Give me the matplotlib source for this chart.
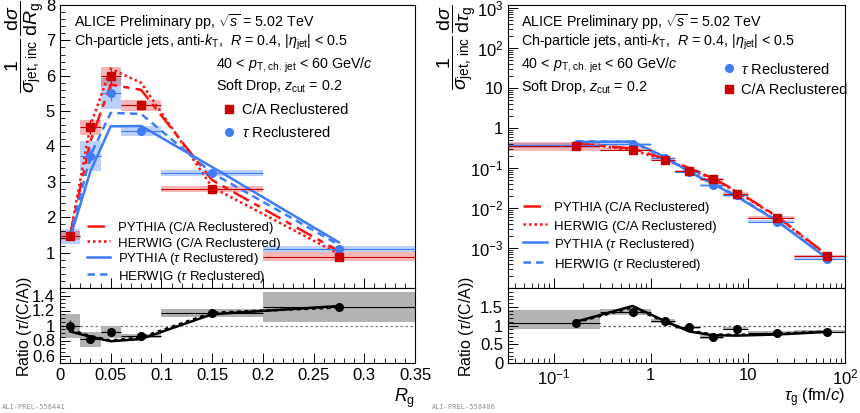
import numpy as np
import matplotlib
matplotlib.use('Agg')
import matplotlib.pyplot as plt
from matplotlib.lines import Line2D
from matplotlib.ticker import MultipleLocator, FixedLocator, LogLocator, FuncFormatter, NullFormatter

plt.rcParams['font.family'] = ['Liberation Sans', 'DejaVu Sans']
plt.rcParams['mathtext.fontset'] = 'custom'
plt.rcParams['mathtext.rm'] = 'Liberation Sans'
plt.rcParams['mathtext.it'] = 'Liberation Sans:italic'
plt.rcParams['mathtext.bf'] = 'Liberation Sans:bold'

# ---- R_g data ----
rg_edges = [0.0, 0.02, 0.04, 0.06, 0.10, 0.20, 0.35]
rg_x = [0.01, 0.03, 0.05, 0.08, 0.15, 0.275]
rg_ca = [1.48, 4.54, 5.98, 5.16, 2.79, 0.88]
rg_ca_stat = [0.08, 0.20, 0.18, 0.12, 0.05, 0.04]
rg_ca_sys = [0.12, 0.21, 0.26, 0.16, 0.09, 0.13]
rg_tau = [1.46, 3.74, 5.50, 4.43, 3.25, 1.10]
rg_tau_stat = [0.08, 0.20, 0.20, 0.08, 0.05, 0.04]
rg_tau_sys = [0.21, 0.42, 0.44, 0.14, 0.09, 0.085]
rg_py_ca = [1.50, 4.15, 5.75, 5.60, 3.05, 1.04]
rg_hw_ca = [1.50, 4.60, 6.20, 5.80, 2.85, 0.96]
rg_py_tau = [1.42, 3.30, 4.57, 4.58, 3.42, 1.29]
rg_hw_tau = [1.45, 3.75, 4.95, 4.92, 3.25, 1.22]
rg_ratio = [0.99, 0.82, 0.92, 0.86, 1.17, 1.25]
rg_ratio_stat = [0.08, 0.04, 0.05, 0.03, 0.02, 0.05]
rg_ratio_sys = [0.16, 0.10, 0.08, 0.03, 0.05, 0.20]
rg_ratio_py = [0.92, 0.85, 0.79, 0.82, 1.15, 1.26]
rg_ratio_hw = [0.94, 0.86, 0.80, 0.84, 1.17, 1.24]

# ---- tau_g data ----
tg_edges = [0.0, 0.3, 1.0, 1.8, 3.2, 5.6, 10.0, 30.0, 100.0]
tg_x = [0.17, 0.65, 1.4, 2.5, 4.4, 7.8, 20.0, 65.0]
tg_ca = [0.36, 0.29, 0.16, 0.084, 0.052, 0.023, 0.0057, 0.00063]
tg_ca_sys = [0.25, 0.08, 0.08, 0.08, 0.08, 0.08, 0.08, 0.08]   # relative
tg_tau = [0.37, 0.39, 0.18, 0.080, 0.037, 0.021, 0.0046, 0.00054]
tg_tau_sys = [0.12, 0.08, 0.08, 0.08, 0.08, 0.08, 0.08, 0.08]  # relative
tg_py_ca = [0.41, 0.31, 0.17, 0.10, 0.055, 0.026, 0.0062, 0.00068]
tg_hw_ca = [0.43, 0.28, 0.16, 0.095, 0.052, 0.025, 0.0060, 0.00066]
tg_py_tau = [0.45, 0.46, 0.19, 0.080, 0.040, 0.019, 0.0047, 0.00056]
tg_hw_tau = [0.47, 0.45, 0.18, 0.082, 0.041, 0.020, 0.0048, 0.00057]
tg_ratio = [1.06, 1.35, 1.12, 0.95, 0.70, 0.92, 0.81, 0.84]
tg_ratio_stat = [0.04, 0.04, 0.03, 0.03, 0.03, 0.03, 0.03, 0.03]
tg_ratio_sys_lo = [0.15, 0.06, 0.05, 0.05, 0.05, 0.05, 0.04, 0.05]
tg_ratio_sys_hi = [0.36, 0.10, 0.05, 0.05, 0.05, 0.05, 0.04, 0.05]
tg_ratio_py = [1.10, 1.52, 1.12, 0.84, 0.74, 0.73, 0.76, 0.83]
tg_ratio_hw = [1.08, 1.48, 1.10, 0.86, 0.76, 0.75, 0.78, 0.84]

model_labels = ['PYTHIA (C/A Reclustered)', 'HERWIG (C/A Reclustered)',
                r'PYTHIA ($\tau$ Reclustered)', r'HERWIG ($\tau$ Reclustered)']

RED = '#ff1010'
RED_D = '#c80000'
BLUE = '#3d7cf5'
GRAY = '#b3b3b3'

W, H = 860, 413
fig = plt.figure(figsize=(W / 100, H / 100), dpi=100)

def px_axes(x0, x1, y0, y1):
    return fig.add_axes([x0 / W, 1 - y1 / H, (x1 - x0) / W, (y1 - y0) / H])

ax1 = px_axes(60, 415, 5, 288)
ax1r = px_axes(60, 415, 288, 363)
ax2 = px_axes(508, 845, 5, 288)
ax2r = px_axes(508, 845, 288, 363)

for a in (ax1, ax1r, ax2, ax2r):
    a.tick_params(which='both', direction='in', top=False, right=False, labelsize=12)
    a.tick_params(which='major', length=7, width=0.7)
    a.tick_params(which='minor', length=3.5, width=0.6)
    for s in a.spines.values():
        s.set_linewidth(0.8)

def sys_boxes(ax, edges, y, lo, hi, color, alpha, xmin=None):
    left = np.array(edges[:-1], dtype=float)
    right = np.array(edges[1:], dtype=float)
    if xmin is not None:
        left = np.maximum(left, xmin)
    y = np.array(y)
    ax.bar(left, np.array(lo) + np.array(hi), width=right - left, bottom=y - np.array(lo),
           align='edge', color=color, alpha=alpha, linewidth=0, zorder=1)

def xerr_of(edges, x, xmin=None):
    left = np.array(edges[:-1], dtype=float)
    if xmin is not None:
        left = np.maximum(left, xmin)
    right = np.array(edges[1:], dtype=float)
    x = np.array(x)
    return [x - left, right - x]

def model_legend(ax, handles, anchor, spacing):
    leg = ax.legend(handles, model_labels, loc='upper left', bbox_to_anchor=anchor,
                    fontsize=9.5, frameon=False, handlelength=1.8, handleheight=1.2,
                    handletextpad=0.55, labelspacing=spacing, borderaxespad=0, borderpad=0)
    ax.add_artist(leg)

TXT = 10.3

# ---------------- left top ----------------
ax = ax1
sys_boxes(ax, rg_edges, rg_tau, rg_tau_sys, rg_tau_sys, BLUE, 0.35)
sys_boxes(ax, rg_edges, rg_ca, rg_ca_sys, rg_ca_sys, '#e03030', 0.35)
ax.errorbar(rg_x, rg_tau, yerr=rg_tau_stat, xerr=xerr_of(rg_edges, rg_x), fmt='o', color=BLUE,
            ms=5.5, elinewidth=0.8, capsize=0, zorder=4)
ax.errorbar(rg_x, rg_ca, yerr=rg_ca_stat, xerr=xerr_of(rg_edges, rg_x), fmt='s', color=RED_D,
            ms=5.5, elinewidth=0.8, capsize=0, zorder=4)
l1, = ax.plot(rg_x, rg_py_ca, color=RED, lw=1.8, dashes=(7, 2.5, 2.5, 2.5), zorder=3)
l2, = ax.plot(rg_x, rg_hw_ca, color=RED, lw=1.8, dashes=(1, 1.2), zorder=3)
l3, = ax.plot(rg_x, rg_py_tau, color=BLUE, lw=1.8, zorder=3)
l4, = ax.plot(rg_x, rg_hw_tau, color=BLUE, lw=1.8, dashes=(3, 2), zorder=3)
ax.set_xlim(0, 0.35)
ax.set_ylim(0, 8)
ax.yaxis.set_major_locator(FixedLocator([1, 2, 3, 4, 5, 6, 7, 8]))
ax.yaxis.set_minor_locator(MultipleLocator(0.2))
ax.xaxis.set_major_locator(MultipleLocator(0.05))
ax.xaxis.set_minor_locator(MultipleLocator(0.01))
ax.tick_params(labelbottom=False)
model_legend(ax, [l1, l2, l3, l4], (0.075, 0.24), 0.1)
h_ca = Line2D([], [], marker='s', ls='none', color=RED_D, ms=5.5)
h_tau = Line2D([], [], marker='o', ls='none', color=BLUE, ms=5.5)
ax.legend([h_ca, h_tau], ['C/A Reclustered', r'$\tau$ Reclustered'], loc='upper left',
          bbox_to_anchor=(0.455, 0.655), fontsize=10.5, frameon=False, handlelength=1.0,
          handletextpad=0.4, labelspacing=0.55, borderaxespad=0, borderpad=0)

ax.text(0.04, 0.94, r'ALICE Preliminary pp, $\sqrt{s}$ = 5.02 TeV', transform=ax.transAxes,
        fontsize=TXT, va='center')
ax.text(0.04, 0.869, r'Ch-particle jets, anti-$k_{\rm T}$,  $R$ = 0.4, $|\eta_{\rm jet}|$ < 0.5',
        transform=ax.transAxes, fontsize=TXT, va='center')
ax.text(0.44, 0.785, r'40 < $p_{\rm T,\,ch.\,jet}$ < 60 GeV/$c$', transform=ax.transAxes,
        fontsize=TXT, va='center')
ax.text(0.44, 0.714, r'Soft Drop, $z_{\rm cut}$ = 0.2', transform=ax.transAxes,
        fontsize=TXT, va='center')

# ---------------- left ratio ----------------
ax = ax1r
ax.axhline(1, color='#808080', lw=0.9, ls=(0, (2, 2)), zorder=1)
sys_boxes(ax, rg_edges, rg_ratio, rg_ratio_sys, rg_ratio_sys, GRAY, 1.0)
ax.errorbar(rg_x, rg_ratio, yerr=rg_ratio_stat, xerr=xerr_of(rg_edges, rg_x), fmt='o',
            color='black', ms=5.5, elinewidth=0.8, capsize=0, zorder=4)
ax.plot(rg_x, rg_ratio_py, color='black', lw=1.8, zorder=3)
ax.plot(rg_x, rg_ratio_hw, color='black', lw=1.8, dashes=(1.5, 1.5), zorder=3)
ax.set_xlim(0, 0.35)
ax.set_ylim(0.5, 1.5)
ax.yaxis.set_major_locator(FixedLocator([0.6, 0.8, 1.0, 1.2, 1.4]))
ax.yaxis.set_minor_locator(MultipleLocator(0.05))
ax.yaxis.set_major_formatter(FuncFormatter(lambda v, p: '%g' % round(v, 2)))
ax.xaxis.set_major_locator(MultipleLocator(0.05))
ax.xaxis.set_minor_locator(MultipleLocator(0.01))
ax.xaxis.set_major_formatter(FuncFormatter(lambda v, p: '%g' % round(v, 3)))

# ---------------- right top ----------------
XMIN = 0.034
ax = ax2
sys_boxes(ax, tg_edges, tg_tau, np.array(tg_tau) * np.array(tg_tau_sys),
          np.array(tg_tau) * np.array(tg_tau_sys), BLUE, 0.35, xmin=XMIN)
sys_boxes(ax, tg_edges, tg_ca, np.array(tg_ca) * np.array(tg_ca_sys),
          np.array(tg_ca) * np.array(tg_ca_sys), '#e03030', 0.35, xmin=XMIN)
ax.errorbar(tg_x, tg_tau, xerr=xerr_of(tg_edges, tg_x, XMIN), fmt='o', color=BLUE,
            ms=5.5, elinewidth=0.8, capsize=0, zorder=4)
ax.errorbar(tg_x, tg_ca, xerr=xerr_of(tg_edges, tg_x, XMIN), fmt='s', color=RED_D,
            ms=5.5, elinewidth=0.8, capsize=0, zorder=4)
m1, = ax.plot(tg_x, tg_py_ca, color=RED, lw=1.8, dashes=(7, 2.5, 2.5, 2.5), zorder=3)
m2, = ax.plot(tg_x, tg_hw_ca, color=RED, lw=1.8, dashes=(1, 1.2), zorder=3)
m3, = ax.plot(tg_x, tg_py_tau, color=BLUE, lw=1.8, zorder=3)
m4, = ax.plot(tg_x, tg_hw_tau, color=BLUE, lw=1.8, dashes=(3, 2), zorder=3)
ax.set_xscale('log')
ax.set_yscale('log')
ax.set_xlim(XMIN, 100)
ax.set_ylim(1e-4, 1.2e3)

def log_fmt(v, p):
    e = int(round(np.log10(v)))
    if e == 0:
        return '1'
    if e == 1:
        return '10'
    return r'$10^{%d}$' % e

ax.yaxis.set_major_locator(LogLocator(base=10, numticks=20))
ax.yaxis.set_minor_locator(LogLocator(base=10, subs=np.arange(2, 10), numticks=20))
ax.yaxis.set_major_formatter(FuncFormatter(log_fmt))
ax.yaxis.set_minor_formatter(NullFormatter())
ax.xaxis.set_minor_locator(LogLocator(base=10, subs=np.arange(2, 10), numticks=20))
ax.tick_params(labelbottom=False)
ax.set_yticks([1e-3, 1e-2, 1e-1, 1, 10, 100, 1000])
model_legend(ax, [m1, m2, m3, m4], (0.045, 0.31), 0.3)
ax.legend([h_tau, h_ca], [r'$\tau$ Reclustered', 'C/A Reclustered'], loc='upper left',
          bbox_to_anchor=(0.635, 0.8), fontsize=10.5, frameon=False, handlelength=1.0,
          handletextpad=0.3, labelspacing=0.45, borderaxespad=0, borderpad=0)
ax.text(0.038, 0.94, r'ALICE Preliminary pp, $\sqrt{s}$ = 5.02 TeV', transform=ax.transAxes,
        fontsize=TXT, va='center')
ax.text(0.038, 0.869, r'Ch-particle jets, anti-$k_{\rm T}$,  $R$ = 0.4, $|\eta_{\rm jet}|$ < 0.5',
        transform=ax.transAxes, fontsize=TXT, va='center')
ax.text(0.038, 0.785, r'40 < $p_{\rm T,\,ch.\,jet}$ < 60 GeV/$c$', transform=ax.transAxes,
        fontsize=TXT, va='center')
ax.text(0.038, 0.712, r'Soft Drop, $z_{\rm cut}$ = 0.2', transform=ax.transAxes,
        fontsize=TXT, va='center')

# ---------------- right ratio ----------------
ax = ax2r
ax.axhline(1, color='#606060', lw=0.9, ls=(0, (2, 2)), zorder=1)
sys_boxes(ax, tg_edges, tg_ratio, tg_ratio_sys_lo, tg_ratio_sys_hi, GRAY, 1.0, xmin=XMIN)
ax.errorbar(tg_x, tg_ratio, yerr=tg_ratio_stat, xerr=xerr_of(tg_edges, tg_x, XMIN), fmt='o',
            color='black', ms=5.5, elinewidth=0.8, capsize=0, zorder=4)
ax.plot(tg_x, tg_ratio_py, color='black', lw=1.8, zorder=3)
ax.plot(tg_x, tg_ratio_hw, color='black', lw=1.8, dashes=(1.5, 1.5), zorder=3)
ax.set_xscale('log')
ax.set_xlim(XMIN, 100)
ax.set_ylim(0, 2)
ax.yaxis.set_major_locator(FixedLocator([0, 0.5, 1.0, 1.5]))
ax.yaxis.set_minor_locator(MultipleLocator(0.1))
ax.yaxis.set_major_formatter(FuncFormatter(lambda v, p: '%g' % v))
ax.xaxis.set_minor_locator(LogLocator(base=10, subs=np.arange(2, 10), numticks=20))
ax.xaxis.set_major_formatter(FuncFormatter(log_fmt))
ax.xaxis.set_minor_formatter(NullFormatter())

# ---------------- axis titles ----------------
fig.text(25 / W, 1 - 47 / H, r'$\dfrac{1}{\sigma_{\rm jet,\,inc}}\,\dfrac{{\rm d}\sigma}{{\rm d}R_{\rm g}}$',
         rotation=90, ha='center', va='center', fontsize=14)
fig.text(457 / W, 1 - 47 / H, r'$\dfrac{1}{\sigma_{\rm jet,\,inc}}\,\dfrac{{\rm d}\sigma}{{\rm d}\tau_{\rm g}}$',
         rotation=90, ha='center', va='center', fontsize=14)
fig.text(24 / W, 1 - 326 / H, r'Ratio ($\tau$/(C/A))', rotation=90, ha='center', va='center',
         fontsize=11.5)
fig.text(466 / W, 1 - 326 / H, r'Ratio ($\tau$/(C/A))', rotation=90, ha='center', va='center',
         fontsize=11.5)
fig.text(415 / W, 1 - 398 / H, r'$R_{\rm g}$', ha='right', va='center', fontsize=13)
fig.text(845 / W, 1 - 398 / H, r'$\tau_{\rm g}$ (fm/$c$)', ha='right', va='center', fontsize=12)
fig.text(2 / W, 1 - 407 / H, 'ALI-PREL-558441', family='DejaVu Sans Mono', fontsize=5, color='#909090',
         va='center')
fig.text(432 / W, 1 - 407 / H, 'ALI-PREL-558486', family='DejaVu Sans Mono', fontsize=5, color='#909090',
         va='center')

fig.savefig('out.png', dpi=100)
